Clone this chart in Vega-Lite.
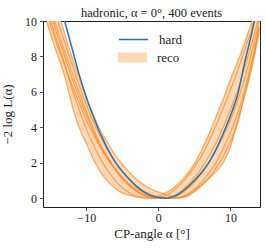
{
  "$schema": "https://vega.github.io/schema/vega-lite/v6.json",
  "width": 217,
  "height": 186,
  "autosize": {"type": "none"},
  "padding": {"left": 43, "top": 21, "right": 6, "bottom": 43},
  "background": "white",
  "config": {
    "view": {"stroke": "#222", "strokeWidth": 1},
    "font": "Liberation Serif",
    "axis": {"grid": false, "domain": false, "tickColor": "#222", "tickSize": 3.5, "tickWidth": 0.8, "labelFont": "Liberation Serif", "labelFontSize": 12, "labelColor": "#222", "titleFont": "Liberation Serif", "titleFontSize": 13, "titleFontWeight": "normal", "titleColor": "#222"},
    "axisY": {"titleColor": "#222222", "titleOpacity": 1},
    "legend": {"labelFont": "Liberation Serif", "labelFontSize": 13, "labelColor": "#222", "title": null}
  },
  "title": {"text": "hadronic, α = 0°, 400 events", "font": "Liberation Serif", "fontSize": 12.5, "fontWeight": "normal", "color": "#222", "offset": -4, "frame": "group"},
  "data": {"values": [
    {"a": -16, "A": 10.8, "B": 13.5, "C": 12.2, "D": 11.0, "E": 11.5, "F": 13.0, "G": 11.8, "H": 14.5},
    {"a": -15, "A": 9.3, "B": 12.0, "C": 10.8, "D": 9.8, "E": 10.1, "F": 11.5, "G": 10.5, "H": 13.0},
    {"a": -14, "A": 8.1, "B": 10.6, "C": 9.5, "D": 8.6, "E": 8.8, "F": 10.1, "G": 9.2, "H": 11.6},
    {"a": -13, "A": 6.9, "B": 9.3, "C": 8.3, "D": 7.5, "E": 7.6, "F": 8.8, "G": 8.0, "H": 10.0},
    {"a": -12, "A": 5.3, "B": 8.0, "C": 7.1, "D": 6.4, "E": 6.2, "F": 7.6, "G": 6.8, "H": 8.5},
    {"a": -11, "A": 4.0, "B": 6.8, "C": 6.0, "D": 5.4, "E": 5.0, "F": 6.4, "G": 5.7, "H": 7.0},
    {"a": -10, "A": 3.1, "B": 5.7, "C": 4.9, "D": 4.4, "E": 3.9, "F": 5.3, "G": 4.7, "H": 5.7},
    {"a": -9, "A": 2.2, "B": 4.7, "C": 3.9, "D": 3.6, "E": 3.0, "F": 4.3, "G": 3.75, "H": 4.6},
    {"a": -8, "A": 1.45, "B": 3.8, "C": 3.0, "D": 2.85, "E": 2.2, "F": 3.45, "G": 2.9, "H": 3.6},
    {"a": -7, "A": 0.95, "B": 3.1, "C": 2.3, "D": 2.2, "E": 1.55, "F": 2.7, "G": 2.2, "H": 2.75},
    {"a": -6, "A": 0.55, "B": 2.45, "C": 1.65, "D": 1.65, "E": 1.0, "F": 2.05, "G": 1.6, "H": 2.05},
    {"a": -5, "A": 0.3, "B": 1.9, "C": 1.1, "D": 1.2, "E": 0.6, "F": 1.5, "G": 1.1, "H": 1.5},
    {"a": -4, "A": 0.15, "B": 1.45, "C": 0.7, "D": 0.8, "E": 0.3, "F": 1.05, "G": 0.7, "H": 1.05},
    {"a": -3, "A": 0.06, "B": 1.05, "C": 0.38, "D": 0.5, "E": 0.12, "F": 0.68, "G": 0.4, "H": 0.65},
    {"a": -2, "A": 0.01, "B": 0.75, "C": 0.16, "D": 0.28, "E": 0.03, "F": 0.4, "G": 0.18, "H": 0.35},
    {"a": -1, "A": 0.01, "B": 0.5, "C": 0.04, "D": 0.13, "E": 0.0, "F": 0.2, "G": 0.05, "H": 0.14},
    {"a": 0, "A": 0.1, "B": 0.35, "C": 0.0, "D": 0.04, "E": 0.02, "F": 0.08, "G": 0.01, "H": 0.03},
    {"a": 1, "A": 0.3, "B": 0.2, "C": 0.02, "D": 0.01, "E": 0.15, "F": 0.02, "G": 0.0, "H": 0.0},
    {"a": 2, "A": 0.55, "B": 0.08, "C": 0.12, "D": 0.0, "E": 0.4, "F": 0.0, "G": 0.05, "H": 0.07},
    {"a": 3, "A": 0.9, "B": 0.02, "C": 0.35, "D": 0.05, "E": 0.75, "F": 0.02, "G": 0.22, "H": 0.28},
    {"a": 4, "A": 1.35, "B": 0.15, "C": 0.7, "D": 0.2, "E": 1.2, "F": 0.12, "G": 0.5, "H": 0.6},
    {"a": 5, "A": 1.95, "B": 0.45, "C": 1.15, "D": 0.5, "E": 1.75, "F": 0.35, "G": 0.9, "H": 1.0},
    {"a": 6, "A": 2.7, "B": 0.75, "C": 1.7, "D": 0.9, "E": 2.4, "F": 0.7, "G": 1.4, "H": 1.45},
    {"a": 7, "A": 3.6, "B": 1.1, "C": 2.35, "D": 1.4, "E": 3.2, "F": 1.15, "G": 2.0, "H": 2.0},
    {"a": 8, "A": 4.6, "B": 1.5, "C": 3.1, "D": 2.0, "E": 4.1, "F": 1.7, "G": 2.7, "H": 2.75},
    {"a": 9, "A": 5.6, "B": 2.0, "C": 4.0, "D": 2.8, "E": 5.1, "F": 2.35, "G": 3.5, "H": 3.65},
    {"a": 10, "A": 6.7, "B": 2.9, "C": 5.0, "D": 3.7, "E": 6.1, "F": 3.2, "G": 4.4, "H": 4.65},
    {"a": 11, "A": 7.7, "B": 4.4, "C": 6.1, "D": 4.8, "E": 7.2, "F": 4.2, "G": 5.5, "H": 5.85},
    {"a": 12, "A": 8.8, "B": 5.8, "C": 7.4, "D": 6.1, "E": 8.4, "F": 5.9, "G": 6.8, "H": 7.7},
    {"a": 13, "A": 10.0, "B": 7.4, "C": 8.8, "D": 7.8, "E": 9.6, "F": 7.6, "G": 8.3, "H": 9.4},
    {"a": 14, "A": 11.3, "B": 9.4, "C": 10.3, "D": 9.6, "E": 11.0, "F": 9.7, "G": 10.0, "H": 11.4}
  ]},
  "encoding": {
    "x": {"field": "a", "type": "quantitative", "scale": {"domain": [-16, 14.1], "nice": false, "zero": false}, "axis": {"values": [-10, 0, 10], "title": "CP-angle α [°]", "labelPadding": 2, "titlePadding": 4}}
  },
  "layer": [
    {
      "transform": [
        {"fold": ["A", "B", "C", "D", "E", "F", "G"], "as": ["c", "v"]},
        {"aggregate": [{"op": "min", "field": "v", "as": "lo"}, {"op": "max", "field": "v", "as": "hi"}], "groupby": ["a"]}
      ],
      "mark": {"type": "area", "interpolate": "monotone", "opacity": 1, "clip": true},
      "encoding": {
        "y": {"field": "lo", "type": "quantitative", "scale": {"domain": [-0.5, 10], "nice": false, "zero": false}, "axis": {"values": [0, 2, 4, 6, 8, 10], "title": "−2 log L(α)", "labelPadding": 3, "titlePadding": 10}},
        "y2": {"field": "hi"},
        "fill": {"datum": "reco", "type": "nominal", "scale": {"domain": ["reco"], "range": ["#ffd9b7"]},
          "legend": {"orient": "none", "legendX": 75, "legendY": 22, "symbolType": "M-1,-0.35H1V0.35H-1Z", "symbolSize": 841, "symbolOpacity": 1, "symbolStrokeWidth": 0, "labelOffset": 10}
        }
      }
    },
    {
      "transform": [{"fold": ["A", "B", "C", "D", "E", "F", "G"], "as": ["c", "v"]}],
      "mark": {"type": "line", "interpolate": "monotone", "color": "#ff7f0e", "opacity": 0.6, "strokeWidth": 1.3, "clip": true},
      "encoding": {
        "y": {"field": "v", "type": "quantitative", "scale": {"domain": [-0.5, 10], "nice": false, "zero": false}, "axis": {"values": [0, 2, 4, 6, 8, 10], "title": "−2 log L(α)", "labelPadding": 3, "titlePadding": 10}},
        "detail": {"field": "c", "type": "nominal"}
      }
    },
    {
      "mark": {"type": "line", "interpolate": "monotone", "strokeWidth": 1.5, "clip": true},
      "encoding": {
        "y": {"field": "H", "type": "quantitative", "scale": {"domain": [-0.5, 10], "nice": false, "zero": false}, "axis": {"values": [0, 2, 4, 6, 8, 10], "title": "−2 log L(α)", "labelPadding": 3, "titlePadding": 10}},
        "stroke": {"datum": "hard", "type": "nominal", "scale": {"domain": ["hard"], "range": ["#1f77b4"]},
          "legend": {"orient": "none", "legendX": 75, "legendY": 3, "symbolType": "stroke", "symbolSize": 841, "symbolStrokeWidth": 1.5, "labelOffset": 10}
        }
      }
    }
  ]
}
